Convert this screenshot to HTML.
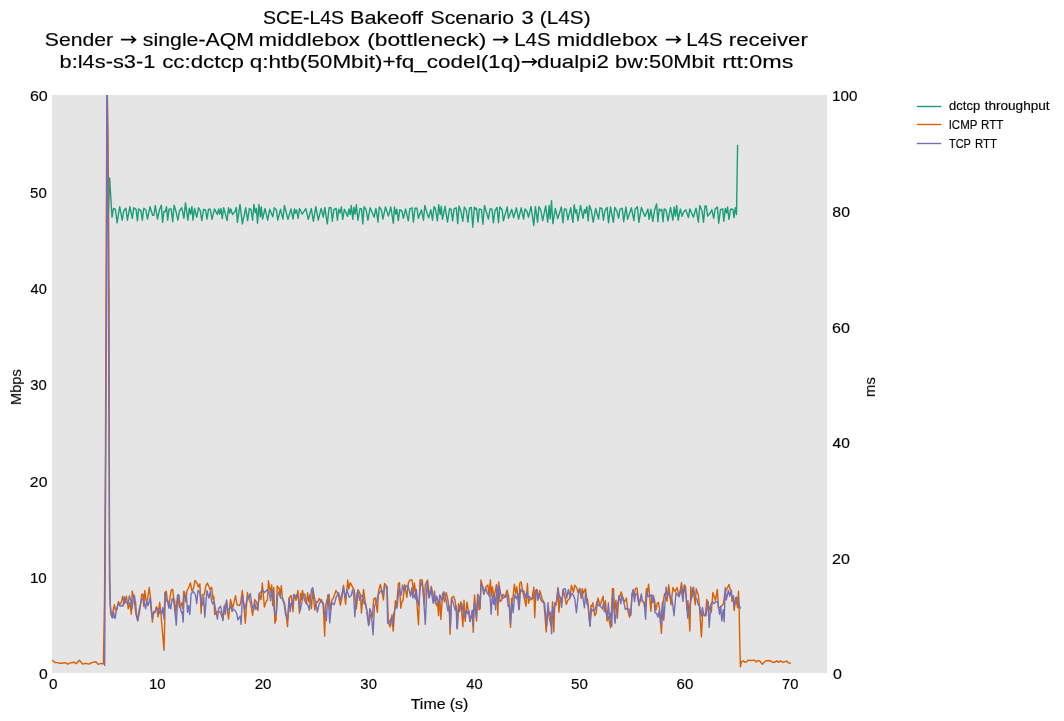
<!DOCTYPE html>
<html><head><meta charset="utf-8"><title>SCE-L4S Bakeoff Scenario 3 (L4S)</title>
<style>html,body{margin:0;padding:0;background:#fff;}svg{display:block;}text{font-family:"Liberation Sans",sans-serif;fill:#000;stroke:#000;stroke-width:0.15px;}</style></head><body>
<svg width="1064" height="721" viewBox="0 0 1064 721">
<rect x="0" y="0" width="1064" height="721" fill="#ffffff"/>
<rect x="52" y="95" width="775" height="578" fill="#e5e5e5"/>
<defs><clipPath id="c"><rect x="52" y="95" width="775" height="578"/></clipPath></defs>
<g opacity="0.999">
<text transform="translate(262.95,24.00) scale(1.0469,1)" font-size="18.6">SCE-L4S</text>
<text transform="translate(350.05,24.00) scale(1.1657,1)" font-size="18.6">Bakeoff</text>
<text transform="translate(430.51,24.00) scale(1.1394,1)" font-size="18.6">Scenario</text>
<text transform="translate(521.51,24.00) scale(1.1886,1)" font-size="18.6">3</text>
<text transform="translate(539.80,24.00) scale(1.1163,1)" font-size="18.6">(L4S)</text>
<text transform="translate(44.86,46.00) scale(1.1387,1)" font-size="18.6">Sender</text>
<text transform="translate(142.83,46.00) scale(1.1453,1)" font-size="18.6">single-AQM</text>
<text transform="translate(258.60,46.00) scale(1.1964,1)" font-size="18.6">middlebox</text>
<text transform="translate(367.17,46.00) scale(1.2253,1)" font-size="18.6">(bottleneck)</text>
<text transform="translate(514.25,46.00) scale(1.0992,1)" font-size="18.6">L4S</text>
<text transform="translate(556.71,46.00) scale(1.1916,1)" font-size="18.6">middlebox</text>
<text transform="translate(686.35,46.00) scale(1.1008,1)" font-size="18.6">L4S</text>
<text transform="translate(728.81,46.00) scale(1.1953,1)" font-size="18.6">receiver</text>
<text transform="translate(59.58,68.00) scale(1.1730,1)" font-size="18.6">b:l4s-s3-1</text>
<text transform="translate(162.20,68.00) scale(1.2000,1)" font-size="18.6">cc:dctcp</text>
<text transform="translate(249.79,68.00) scale(1.2108,1)" font-size="18.6">q:htb(50Mbit)+fq_codel(1q)</text>
<text transform="translate(537.10,68.00) scale(1.1948,1)" font-size="18.6">dualpi2</text>
<text transform="translate(615.03,68.00) scale(1.1748,1)" font-size="18.6">bw:50Mbit</text>
<text transform="translate(722.13,68.00) scale(1.2545,1)" font-size="18.6">rtt:0ms</text>
<text transform="translate(410.72,709.00) scale(1.1378,1)" font-size="14">Time</text>
<text transform="translate(449.64,709.00) scale(1.1458,1)" font-size="14">(s)</text>
<text transform="translate(949.08,110.00) scale(1.0470,1)" font-size="12.4">dctcp</text>
<text transform="translate(984.63,110.00) scale(1.0966,1)" font-size="12.4">throughput</text>
<text transform="translate(948.68,129.00) scale(0.9248,1)" font-size="12.4">ICMP</text>
<text transform="translate(981.02,129.00) scale(0.9341,1)" font-size="12.4">RTT</text>
<text transform="translate(948.98,148.00) scale(0.8854,1)" font-size="12.4">TCP</text>
<text transform="translate(974.97,148.00) scale(0.9253,1)" font-size="12.4">RTT</text>
<text transform="translate(29.97,101.00) scale(1.1446,1)" font-size="14">60</text>
<text transform="translate(30.02,198.00) scale(1.0744,1)" font-size="14">50</text>
<text transform="translate(30.54,294.00) scale(1.0441,1)" font-size="14">40</text>
<text transform="translate(30.17,390.00) scale(1.0621,1)" font-size="14">30</text>
<text transform="translate(29.85,487.00) scale(1.1298,1)" font-size="14">20</text>
<text transform="translate(29.91,583.00) scale(1.0857,1)" font-size="14">10</text>
<text transform="translate(39.01,679.00) scale(1.1230,1)" font-size="14">0</text>
<text transform="translate(832.11,101.00) scale(1.0851,1)" font-size="14">100</text>
<text transform="translate(832.33,217.00) scale(1.1310,1)" font-size="14">80</text>
<text transform="translate(832.04,333.00) scale(1.1509,1)" font-size="14">60</text>
<text transform="translate(832.62,448.00) scale(1.1119,1)" font-size="14">40</text>
<text transform="translate(832.04,564.00) scale(1.1509,1)" font-size="14">20</text>
<text transform="translate(832.93,679.00) scale(1.1481,1)" font-size="14">0</text>
<text transform="translate(49.12,689.00) scale(1.0933,1)" font-size="14">0</text>
<text transform="translate(149.03,689.00) scale(1.0714,1)" font-size="14">10</text>
<text transform="translate(254.69,689.00) scale(1.0807,1)" font-size="14">20</text>
<text transform="translate(360.37,689.00) scale(1.0621,1)" font-size="14">30</text>
<text transform="translate(466.34,689.00) scale(1.0508,1)" font-size="14">40</text>
<text transform="translate(571.09,689.00) scale(1.0807,1)" font-size="14">50</text>
<text transform="translate(676.59,689.00) scale(1.0807,1)" font-size="14">60</text>
<text transform="translate(782.11,689.00) scale(1.0526,1)" font-size="14">70</text>
<text transform="translate(21.00,405.05) rotate(-90) scale(1.0458,1)" font-size="14">Mbps</text>
<text transform="translate(875.00,397.06) rotate(-90) scale(1.0580,1)" font-size="14">ms</text>
<path d="M121.0,39.7 H135.2 M131.3,36.2 L135.4,39.7 L131.3,43.2" fill="none" stroke="#000" stroke-width="1.7" stroke-linejoin="miter"/>
<path d="M493.1,39.7 H507.3 M503.4,36.2 L507.5,39.7 L503.4,43.2" fill="none" stroke="#000" stroke-width="1.7" stroke-linejoin="miter"/>
<path d="M665.8,39.7 H680.0 M676.1,36.2 L680.2,39.7 L676.1,43.2" fill="none" stroke="#000" stroke-width="1.7" stroke-linejoin="miter"/>
<path d="M521.8,61.8 H536.0 M532.1,58.3 L536.2,61.8 L532.1,65.3" fill="none" stroke="#000" stroke-width="1.7" stroke-linejoin="miter"/>
<g clip-path="url(#c)">
<polyline points="108.4,215.0 109.6,178.0 112.0,217.2 113.5,208.5 115.4,209.3 117.1,222.8 119.7,206.7 122.2,220.2 123.7,210.8 125.9,208.2 127.4,220.2 129.9,206.7 132.3,218.3 133.8,207.8 136.1,209.3 137.4,220.9 138.7,208.9 141.0,210.8 142.3,220.2 143.8,208.2 145.9,210.0 147.5,219.1 150.0,206.7 152.6,215.3 153.8,215.3 155.3,205.5 157.5,219.1 159.4,210.0 161.3,205.2 162.6,222.4 163.9,211.5 165.4,211.5 166.5,206.7 167.7,220.2 169.0,209.3 171.1,208.9 172.7,221.7 174.1,205.2 175.9,211.2 177.9,220.2 179.5,210.8 181.8,207.8 183.9,218.3 185.5,202.9 187.9,220.2 189.3,208.2 190.6,214.2 191.9,206.7 193.0,220.2 194.5,208.5 196.8,217.2 198.5,207.8 200.2,210.4 201.8,220.6 203.6,209.3 205.5,210.0 207.0,219.1 208.5,209.3 210.3,209.3 212.0,219.4 214.5,208.9 217.3,214.5 218.6,208.9 219.7,214.2 221.0,208.5 222.2,218.7 223.7,207.8 227.1,220.6 228.5,207.8 229.7,213.0 230.8,208.9 232.5,214.5 234.8,211.9 236.3,207.4 237.4,222.4 240.0,204.4 242.4,223.9 245.7,207.8 247.6,220.6 249.4,208.5 250.9,209.3 252.6,220.2 253.9,204.4 255.3,212.7 256.4,208.5 257.5,223.2 259.0,204.4 260.4,216.8 261.3,207.0 262.6,219.1 265.0,208.5 267.7,220.2 269.7,209.3 272.8,216.8 274.2,207.8 276.3,209.7 277.8,220.2 280.5,209.3 282.9,219.1 284.4,205.5 288.0,219.4 291.0,208.9 293.0,219.1 294.5,208.9 295.5,213.0 296.6,210.0 298.1,218.3 299.5,208.5 302.3,214.2 305.8,208.5 308.3,219.4 311.3,208.5 313.4,221.3 315.8,206.7 318.3,220.2 321.1,208.5 323.3,217.2 324.8,207.4 327.3,223.9 329.1,207.8 331.0,207.8 332.3,221.3 333.9,209.3 336.1,208.5 337.4,220.2 338.7,209.3 340.0,213.0 341.4,207.0 342.7,219.4 344.4,209.3 347.6,216.4 348.9,208.9 350.2,214.5 351.3,205.5 352.8,219.4 353.9,207.4 355.1,214.2 356.4,204.8 357.9,220.2 360.0,208.5 361.5,208.9 362.8,223.9 364.1,206.7 366.0,209.3 367.9,220.2 370.1,207.8 374.2,217.2 375.8,208.5 376.7,212.7 378.0,222.1 379.3,207.0 381.4,210.0 382.9,219.1 385.5,207.0 388.4,216.1 390.8,207.0 393.3,223.2 394.5,207.0 395.7,214.2 396.8,209.3 398.3,220.6 399.8,209.7 402.0,211.2 403.4,218.3 405.6,208.9 408.3,220.9 409.8,208.9 412.0,207.8 413.4,222.1 415.0,208.2 416.9,208.2 418.4,218.3 421.4,209.7 423.5,220.2 424.8,205.5 426.3,210.8 428.6,217.9 430.8,209.7 432.5,220.2 434.0,206.7 435.3,208.5 437.4,220.9 438.7,204.8 440.2,214.5 441.2,206.3 442.5,219.4 445.0,206.3 447.5,222.1 449.6,208.5 451.1,209.3 452.6,220.9 454.1,208.9 456.2,207.8 457.7,223.6 459.0,205.9 460.9,211.2 462.8,221.3 464.3,207.0 466.2,210.0 467.9,222.1 469.5,208.2 471.3,207.4 472.8,227.3 474.4,207.0 475.6,209.3 476.5,208.2 478.0,222.1 479.4,208.9 481.4,209.7 482.9,224.3 484.5,205.5 488.4,219.1 490.0,208.9 491.9,208.9 493.4,222.8 494.9,210.8 497.0,207.4 498.5,222.8 499.8,207.0 502.1,209.7 503.4,220.9 507.2,207.0 508.5,218.3 511.8,209.3 513.6,217.9 516.4,207.8 518.6,219.1 521.2,207.8 523.6,219.1 525.0,208.9 526.9,211.2 528.5,217.2 531.0,206.7 533.8,225.5 535.4,206.7 537.6,222.1 538.9,206.7 540.8,210.0 542.7,220.6 545.7,205.9 547.7,222.1 549.1,205.5 550.2,218.7 551.5,200.6 552.9,223.6 555.3,208.5 557.7,218.7 561.3,207.0 562.9,222.8 564.4,208.9 566.2,209.3 567.9,219.8 570.7,207.8 572.9,222.4 574.2,204.8 575.6,213.0 576.5,209.7 578.0,220.9 580.5,205.5 583.1,218.3 584.4,209.7 585.5,213.0 586.8,206.7 588.2,220.9 589.5,205.5 591.4,210.8 593.2,222.1 595.7,208.5 598.5,219.1 600.0,207.8 601.9,208.5 603.4,220.2 604.9,210.8 607.1,207.4 608.5,222.8 610.5,207.0 613.4,222.4 614.8,207.4 616.9,211.2 618.6,218.3 619.9,209.3 622.2,208.2 623.7,221.7 625.9,207.0 627.6,219.4 631.4,207.8 633.9,220.6 635.2,208.9 637.4,206.7 638.9,222.4 641.4,207.4 644.9,216.4 647.9,208.9 649.1,219.4 650.9,209.3 652.8,221.3 654.7,209.7 656.6,204.0 657.9,221.7 659.2,208.9 660.7,210.8 661.8,209.3 663.0,221.7 664.2,208.9 666.0,210.0 668.0,220.9 670.5,207.4 672.9,220.2 674.2,207.0 675.5,216.1 676.7,205.5 678.2,220.2 680.3,208.9 682.1,216.4 683.6,211.9 685.8,209.7 688.4,217.6 689.8,208.9 693.4,217.2 696.0,208.2 698.4,222.1 699.8,205.5 702.0,210.8 703.5,222.4 705.0,205.9 706.2,205.9 707.7,216.1 710.3,212.7 711.8,209.7 713.7,218.3 715.2,208.9 717.4,207.0 718.7,223.2 720.5,209.7 722.7,208.9 723.8,221.3 725.3,208.5 726.6,213.0 727.6,207.0 728.9,219.4 730.6,209.3 732.9,209.3 734.0,217.6 735.3,207.8 736.5,214.5 737.6,144.7" fill="none" stroke="#1b9e77" stroke-width="1.4" stroke-linejoin="round" stroke-linecap="butt"/>
<polyline points="52.3,659.9 53.8,661.4 55.3,662.6 57.5,662.6 59.8,663.3 62.0,663.3 65.0,662.6 67.7,664.1 70.3,662.9 74.1,662.2 76.3,663.7 79.3,660.3 80.8,661.8 82.7,664.1 85.3,663.3 89.1,664.1 91.7,662.6 95.9,661.8 98.1,664.4 101.1,663.3 103.4,664.1 104.5,600.0 105.5,447.0 106.0,297.0 106.6,157.0 106.8,95.0 107.0,55.0 107.3,95.0 108.0,135.0 108.2,157.0 109.1,297.0 109.5,580.0 110.6,613.1 111.8,616.8 114.4,604.8 115.5,610.1 116.7,609.7 118.4,601.8 120.0,604.1 121.5,601.8 122.7,596.2 124.2,604.1 126.4,596.2 128.3,608.9 129.8,602.6 131.3,614.2 132.2,590.9 133.6,597.7 134.7,604.8 136.2,615.3 137.7,620.6 139.6,611.6 141.8,594.3 143.0,594.3 143.7,606.3 144.8,590.5 146.0,600.3 147.5,599.5 149.2,587.5 150.5,597.3 152.4,622.1 153.5,611.6 155.0,611.6 156.5,606.7 158.0,616.8 159.7,602.2 161.0,614.6 164.0,650.2 164.8,619.1 165.2,592.0 166.3,591.3 167.4,600.3 168.9,604.8 171.2,590.2 172.7,589.4 173.8,599.5 174.5,599.5 175.7,613.1 177.6,595.0 179.4,607.1 181.7,602.9 182.6,608.6 183.8,591.3 184.7,592.4 185.6,601.8 187.1,590.2 188.3,588.6 190.4,583.0 191.9,590.9 193.5,588.3 195.0,580.4 196.9,583.0 198.4,587.1 199.9,583.8 201.1,613.5 202.2,594.7 204.1,595.0 205.9,585.6 207.4,583.0 210.1,589.8 211.6,587.1 213.1,599.5 213.8,596.2 214.7,614.6 216.5,612.3 219.1,611.6 220.2,612.0 221.7,616.1 222.9,619.8 224.4,605.6 225.5,604.8 226.5,601.8 228.5,619.1 230.5,599.5 232.6,608.2 235.5,595.8 237.1,604.8 239.4,605.6 240.5,603.7 242.3,590.5 243.9,604.8 245.3,623.2 247.4,592.4 248.8,598.8 250.7,603.3 252.6,615.3 254.8,599.5 256.7,602.6 258.0,610.5 259.1,593.5 261.0,599.5 262.3,583.0 264.4,607.1 266.3,601.1 267.4,600.3 268.5,580.8 270.4,592.8 271.7,584.9 272.7,605.6 273.8,587.5 274.9,623.2 276.1,619.8 277.2,586.0 279.4,589.0 280.2,595.8 281.3,585.6 282.4,597.7 284.7,604.1 286.2,615.3 287.5,626.6 289.2,598.0 291.1,595.4 293.0,611.6 294.1,594.3 296.0,600.3 298.0,590.5 299.4,613.1 300.7,593.5 301.6,599.5 302.4,590.5 304.6,600.3 306.5,604.1 307.6,592.8 308.8,601.8 309.9,594.7 311.4,608.6 312.7,589.8 314.8,610.1 315.9,601.8 317.4,602.6 319.3,598.4 320.4,600.7 321.5,599.5 323.0,604.1 323.8,616.1 324.7,636.1 325.5,606.3 327.2,599.5 329.1,594.3 330.2,610.1 332.0,599.9 333.4,598.0 336.0,590.5 338.3,594.7 340.4,605.2 342.0,597.3 343.5,585.3 345.6,604.4 347.7,580.0 348.8,589.0 350.2,582.6 354.1,589.8 356.3,608.9 358.4,590.2 360.5,594.7 361.4,613.1 363.5,589.4 365.3,602.6 367.6,615.3 369.1,624.4 370.5,614.2 372.5,616.8 373.6,599.5 375.1,597.7 377.4,612.3 378.5,591.3 380.4,584.5 383.5,599.9 384.5,583.4 387.1,586.8 388.3,621.4 389.9,627.0 392.0,614.6 393.2,631.1 395.4,600.7 396.5,607.1 398.4,583.8 399.5,582.6 400.7,608.2 402.2,601.1 402.9,601.1 404.8,584.5 406.8,597.3 408.4,582.6 409.9,580.0 412.1,580.0 413.6,593.9 414.4,583.0 416.7,600.3 418.5,624.7 420.0,580.0 422.3,580.0 424.2,604.1 425.3,584.5 427.6,580.0 429.4,597.3 431.3,586.4 433.6,598.0 436.6,605.6 437.5,602.6 438.6,615.7 439.7,595.0 440.9,619.5 442.6,593.5 444.5,601.8 446.2,592.4 447.9,599.9 449.4,612.3 450.1,634.3 451.5,598.0 453.5,596.2 455.0,600.3 456.5,610.1 457.4,628.1 458.5,603.7 459.5,611.6 460.8,601.8 462.9,626.6 464.0,600.3 465.2,621.4 467.0,602.2 468.5,611.6 470.3,621.7 472.3,610.1 473.3,632.3 474.5,595.0 476.6,621.0 477.6,594.3 479.1,609.7 480.2,608.6 480.9,580.0 482.3,585.3 483.8,594.3 486.0,586.8 487.9,584.9 489.0,596.2 490.4,580.0 491.3,595.8 492.4,586.8 493.9,597.7 496.5,584.5 497.8,615.3 498.8,581.9 499.9,601.8 501.8,599.9 502.9,594.3 504.8,596.9 507.1,590.2 508.9,598.0 510.5,627.4 511.6,598.4 512.7,600.3 514.4,584.1 515.7,593.5 516.8,586.8 518.9,609.7 519.8,583.0 521.2,581.9 522.9,592.0 526.0,606.3 527.4,583.4 528.5,603.3 529.6,599.2 531.9,599.5 533.8,587.1 534.7,617.6 536.0,589.8 537.1,589.4 538.3,598.8 539.8,590.5 542.4,599.5 543.9,602.2 546.2,631.9 547.7,610.1 549.5,619.1 551.1,625.9 552.6,601.8 553.8,631.9 554.8,602.9 556.1,605.2 557.9,587.5 558.9,612.3 560.3,596.9 561.8,603.3 563.3,590.5 564.8,596.5 566.3,604.4 567.8,600.3 569.7,598.4 571.4,585.3 573.4,592.4 574.7,585.3 576.8,587.9 577.9,592.4 579.8,588.3 581.2,598.4 582.2,588.6 583.4,593.5 585.5,588.6 587.0,601.1 587.6,599.2 588.7,613.1 590.0,625.9 590.9,605.6 591.8,606.3 592.8,602.6 594.7,615.7 596.2,613.1 597.9,598.0 600.1,605.6 603.1,596.2 604.2,611.6 605.4,600.7 607.1,621.0 608.5,616.8 610.6,627.7 612.5,588.6 613.5,588.6 614.6,612.3 615.9,600.3 617.3,618.3 618.9,595.8 620.0,596.2 621.2,592.0 622.3,595.8 624.5,602.2 626.4,598.0 627.8,610.5 629.6,617.2 630.9,610.1 632.0,594.3 633.8,595.8 635.6,588.3 637.1,588.3 639.0,605.6 640.5,599.5 642.0,600.3 643.9,602.6 645.0,608.6 646.4,588.6 647.4,592.8 648.6,584.1 650.9,611.2 652.0,595.0 652.9,602.6 654.4,599.2 655.9,610.5 657.2,603.3 658.4,602.2 659.5,608.6 661.4,633.4 663.1,601.8 664.6,593.5 667.0,601.1 668.7,584.9 671.0,604.8 672.9,587.5 675.0,591.7 677.0,587.5 679.2,596.9 681.5,582.6 683.0,596.2 684.5,584.9 685.6,586.8 687.0,610.1 688.0,600.7 689.9,631.1 690.8,586.8 691.8,597.3 693.0,587.9 695.3,604.8 696.2,588.6 698.4,595.4 699.5,607.1 701.4,637.0 702.6,613.8 705.3,616.1 706.8,599.5 708.3,604.8 709.8,609.3 711.3,612.3 712.9,592.4 715.4,600.3 717.3,589.4 718.4,607.8 721.4,606.3 723.3,604.1 725.2,591.3 726.3,590.5 728.9,584.5 730.1,589.0 731.4,590.5 732.0,601.4 733.1,598.0 734.2,610.5 735.7,597.7 737.6,607.8 738.5,591.3 739.1,606.3 739.7,640.0 740.4,666.8 741.5,661.6 743.4,660.8 744.9,662.3 746.4,662.0 748.3,660.1 751.3,660.5 754.3,660.1 756.2,662.0 758.1,660.5 760.0,661.2 762.4,664.2 764.1,662.3 766.0,660.8 768.2,660.8 770.1,660.5 772.4,662.3 774.6,662.3 776.9,660.8 778.4,662.3 780.6,660.8 782.9,662.3 785.2,661.6 787.0,661.2 788.2,662.7 790.8,663.5" fill="none" stroke="#d95f02" stroke-width="1.4" stroke-linejoin="round" stroke-linecap="butt"/>
<polyline points="104.7,666.0 105.0,600.0 105.8,447.0 106.5,297.0 106.8,157.0 106.8,95.0 107.0,60.0 107.3,95.0 107.7,157.0 108.5,297.0 109.0,447.0 109.6,560.0 110.2,604.0 111.4,615.3 112.5,618.0 113.6,611.6 114.4,618.0 115.2,618.3 116.3,610.8 118.2,603.7 120.4,606.3 121.9,605.2 123.0,606.3 124.4,596.9 125.7,602.6 126.8,602.2 127.9,604.4 129.4,595.8 130.9,601.1 131.9,608.9 133.0,600.3 134.3,595.0 135.5,601.8 136.6,614.6 137.7,621.0 139.2,609.3 140.3,605.6 141.8,598.4 143.7,600.7 145.6,608.9 146.7,599.9 147.9,605.9 150.1,598.0 151.2,610.1 152.5,618.3 153.5,613.8 155.0,612.3 156.9,608.2 158.4,608.9 159.5,613.5 160.6,610.5 161.8,613.5 162.7,607.8 164.0,619.1 165.0,592.8 166.3,601.1 167.4,600.7 168.9,608.2 169.7,604.1 170.8,608.9 171.9,599.2 173.0,598.4 174.2,604.8 176.3,625.1 177.8,594.7 179.1,595.4 180.2,607.8 181.7,613.1 182.1,611.6 183.2,622.1 184.1,595.0 185.3,597.3 186.4,595.0 187.5,612.3 188.6,605.6 189.8,614.6 191.1,593.9 193.2,591.3 195.4,594.7 196.7,603.7 198.0,590.5 199.7,592.4 201.4,601.8 202.6,605.2 203.7,596.9 204.8,617.2 206.9,590.5 208.9,598.0 210.3,591.3 211.6,601.1 212.7,604.1 214.2,601.8 215.7,610.1 217.4,619.1 218.7,608.2 220.6,606.3 222.1,613.1 222.9,620.6 224.4,606.3 225.5,614.2 226.5,599.9 227.7,609.7 229.6,608.9 231.0,605.2 232.1,611.6 233.2,608.9 235.3,610.8 236.8,613.8 237.9,619.8 240.2,616.1 241.1,624.4 242.4,595.0 244.5,610.1 248.0,596.2 249.2,597.7 250.3,593.5 251.8,604.1 253.7,610.1 254.8,602.6 255.9,609.3 258.0,605.9 259.5,593.2 262.5,590.2 264.8,592.4 267.4,589.4 269.7,595.0 270.6,600.7 271.9,589.4 273.4,598.0 274.2,610.1 275.3,615.0 276.4,613.1 277.6,595.0 278.7,592.0 280.9,598.4 282.4,598.4 284.3,604.8 285.5,614.2 286.7,616.8 287.7,619.1 289.0,598.4 290.2,611.6 291.1,603.3 292.2,605.6 293.7,594.7 295.2,597.3 296.4,594.7 298.6,598.8 300.1,610.8 303.1,596.2 304.6,593.9 306.9,604.1 308.0,605.2 309.3,610.1 311.4,589.8 312.7,587.5 314.4,597.3 315.5,601.8 317.4,612.0 318.9,604.8 320.8,601.1 322.3,602.6 323.4,602.9 324.5,614.2 325.7,612.0 326.4,620.6 327.8,595.0 328.7,604.1 329.7,622.9 331.7,602.6 334.1,604.8 336.4,596.5 338.6,592.8 340.4,599.9 342.0,593.5 343.4,587.5 345.4,598.4 346.9,589.4 349.2,597.3 351.1,595.8 352.6,589.8 353.7,595.0 354.8,616.8 356.7,595.0 358.0,589.8 359.7,600.3 360.8,595.8 362.7,595.8 364.2,604.1 365.2,602.2 366.5,608.6 368.5,625.5 369.8,608.6 371.2,612.3 373.1,634.7 374.4,605.6 375.9,603.3 378.1,595.0 380.8,590.9 382.6,591.3 383.5,594.7 384.3,586.4 385.6,587.5 386.8,587.5 387.7,623.2 389.4,621.7 391.3,618.3 392.4,625.9 393.9,613.1 395.4,607.4 396.9,608.2 399.2,588.3 400.3,592.4 401.4,595.0 402.6,584.9 404.1,590.9 406.3,586.4 408.0,585.3 410.6,596.2 411.8,587.9 412.9,598.0 414.4,594.7 415.4,598.8 416.3,589.4 417.4,600.3 418.7,605.2 420.8,581.5 423.0,588.3 425.3,624.4 427.2,581.5 428.9,598.0 430.9,588.3 433.2,603.3 434.5,591.3 435.7,602.6 436.7,596.2 438.8,604.8 440.0,595.4 442.2,600.3 443.7,591.7 446.0,599.2 447.9,610.8 449.2,605.9 450.3,628.1 451.6,598.4 453.1,602.6 455.2,610.1 456.1,606.3 457.0,628.9 458.4,608.9 460.3,608.2 461.8,603.3 462.9,610.1 464.8,617.6 466.3,610.1 467.4,613.5 468.9,610.5 469.8,621.0 471.5,615.3 472.3,610.8 473.0,625.9 474.2,602.6 476.4,617.6 477.8,595.0 479.4,596.9 480.0,607.1 481.1,584.5 483.0,586.8 484.1,593.9 485.6,587.9 487.5,593.9 489.8,591.7 491.1,614.2 492.4,595.4 493.7,604.4 494.7,596.5 495.6,609.7 496.9,585.6 498.0,602.6 499.4,586.0 500.7,594.3 502.6,598.4 505.6,596.9 506.9,594.3 508.2,606.3 509.3,605.2 510.5,623.6 512.0,601.1 513.1,612.7 514.7,594.7 516.5,598.8 518.0,593.5 519.2,609.3 520.6,589.4 522.1,591.7 524.0,590.9 525.5,598.0 526.8,592.4 528.5,598.0 529.2,596.5 531.1,598.8 533.4,598.0 535.3,590.9 536.4,590.5 537.7,600.3 539.0,593.5 540.5,599.2 542.4,602.2 544.5,602.9 546.9,625.5 548.0,602.6 549.2,614.6 550.3,612.3 551.6,633.8 552.8,607.4 553.7,614.2 554.8,604.1 556.7,601.8 558.2,589.4 559.5,596.9 560.6,598.0 561.6,607.4 562.9,589.4 565.2,588.6 566.7,598.0 568.4,589.4 570.0,597.7 571.9,593.5 573.4,595.0 574.9,599.5 576.4,612.7 578.3,594.3 579.7,589.0 581.3,595.4 582.4,594.7 584.5,607.8 585.5,593.2 587.0,604.1 588.1,604.1 590.0,626.2 591.5,608.6 592.6,610.8 594.8,610.8 597.0,601.4 598.2,605.2 600.5,606.3 602.4,608.9 603.7,602.6 605.4,610.1 607.3,617.6 608.4,602.6 609.5,618.3 610.6,613.1 611.8,626.2 612.7,593.5 615.0,623.2 616.7,607.8 619.3,596.2 620.8,603.7 621.8,596.2 623.6,601.4 625.3,609.3 627.6,608.2 629.1,609.3 630.9,615.3 632.1,593.2 633.2,589.4 634.5,601.8 635.4,594.3 636.8,593.2 639.0,604.8 641.3,593.9 642.4,601.1 644.3,603.3 645.6,619.1 646.9,590.9 648.0,596.5 649.9,596.2 651.4,594.7 652.6,601.8 653.7,595.8 655.0,612.7 656.7,613.5 658.0,617.2 659.3,610.5 660.7,624.7 662.5,602.2 663.8,620.2 666.1,587.1 667.4,596.5 668.7,592.4 670.2,597.7 671.5,598.0 672.9,605.6 674.0,615.7 676.0,592.8 677.4,595.0 679.2,596.2 681.1,588.6 683.0,601.4 684.3,585.3 686.0,595.0 687.7,618.0 690.2,604.1 691.7,597.7 693.5,587.1 694.8,597.7 696.9,598.8 698.0,604.1 699.5,605.9 701.4,616.1 702.4,607.4 703.8,614.6 706.0,615.3 708.1,601.8 709.2,627.4 710.9,603.7 712.8,601.8 713.9,603.7 715.8,601.8 717.7,601.8 719.5,614.2 720.7,606.3 721.8,621.0 723.3,609.7 724.2,621.7 725.2,587.5 726.3,599.9 728.4,590.5 729.7,596.2 730.8,591.3 732.2,597.7 733.5,595.8 734.2,606.3 736.5,596.9 738.3,601.1 739.5,606.3 740.6,608.6" fill="none" stroke="#7570b3" stroke-width="1.4" stroke-linejoin="round" stroke-linecap="butt"/>
</g>
<line x1="916.8" y1="106.5" x2="941.2" y2="106.5" stroke="#1b9e77" stroke-width="1.4"/>
<line x1="916.8" y1="124.5" x2="941.2" y2="124.5" stroke="#d95f02" stroke-width="1.4"/>
<line x1="916.8" y1="143.5" x2="941.2" y2="143.5" stroke="#7570b3" stroke-width="1.4"/>
</svg></body></html>
